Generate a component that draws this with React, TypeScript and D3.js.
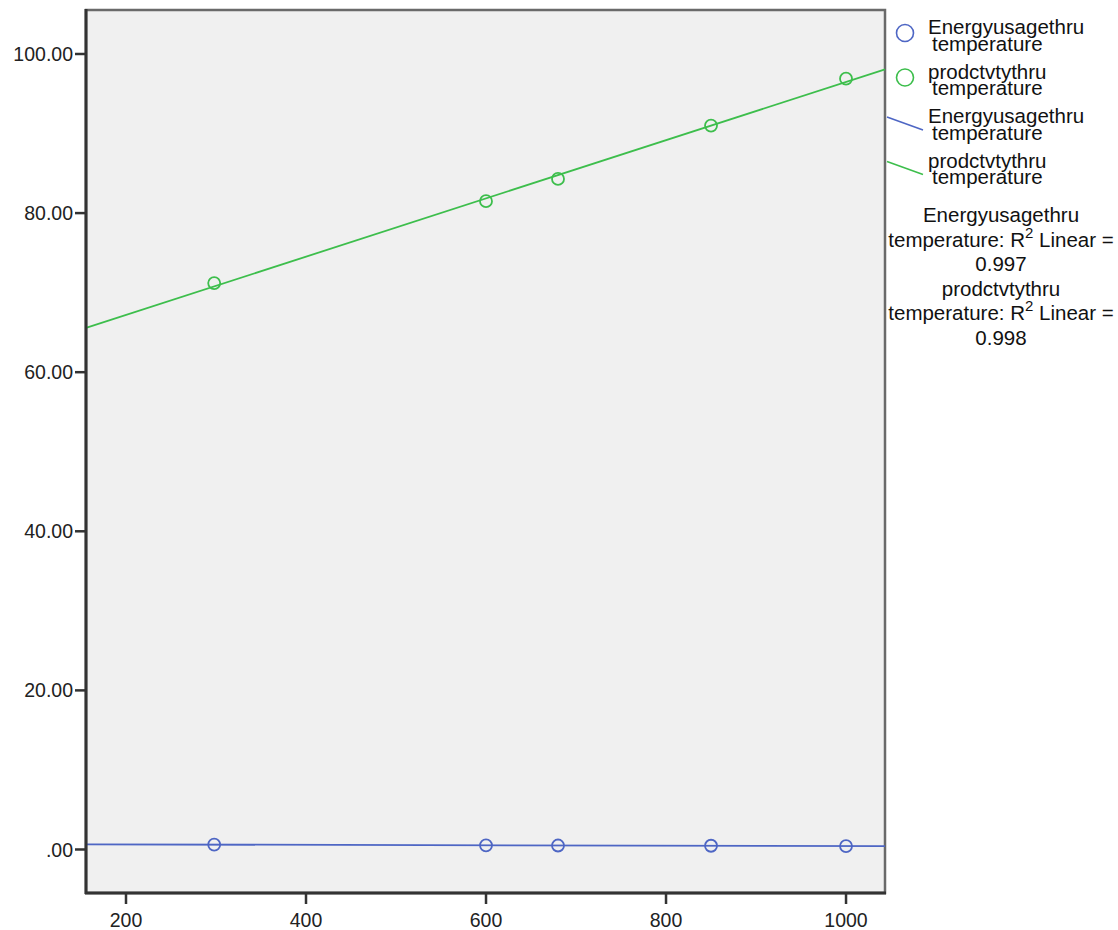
import React from "react";
import * as d3 from "d3";

const temperature = [298, 600, 680, 850, 1000];
const energyUsage = [0.62, 0.52, 0.5, 0.47, 0.43];
const productivity = [71.2, 81.5, 84.3, 91.0, 96.9];
const yTicks = [0, 20, 40, 60, 80, 100];
const xTicks = [200, 400, 600, 800, 1000];
const legendNames = ["Energyusagethru", "prodctvtythru"];
const r2Values = ["0.997", "0.998"];

const BLUE = "#4E66C4";
const GREEN = "#3DBE4C";
const FONT = "'Liberation Sans', Arial, sans-serif";

function fit(xs: number[], ys: number[]) {
  const mx = d3.mean(xs)!;
  const my = d3.mean(ys)!;
  let sxy = 0, sxx = 0;
  xs.forEach((x, i) => { sxy += (x - mx) * (ys[i] - my); sxx += (x - mx) * (x - mx); });
  const b = sxy / sxx;
  return (x: number) => my + b * (x - mx);
}

export default function App() {
  const W = 1118, H = 930;
  const L = 86, R = 885, T = 10, B = 893;
  const x = d3.scaleLinear().domain([155.56, 1043.3]).range([L, R]);
  const y = d3.scaleLinear().domain([-5.47, 105.53]).range([B, T]);
  const series = [
    { name: legendNames[0], vals: energyUsage, color: BLUE },
    { name: legendNames[1], vals: productivity, color: GREEN },
  ];
  const [x0, x1] = x.domain();
  const fmtY = (v: number) => (v === 0 ? ".00" : v.toFixed(2));
  const LF = 20.5;

  return (
    <svg width={W} height={H} style={{ position: "absolute", left: 0, top: 0, background: "#fff" }} fontFamily={FONT}>
      <rect x={L} y={T} width={R - L} height={B - T} fill="#F0F0F0" stroke="#6a6a6a" strokeWidth={2.5} />
      {series.map((s, i) => {
        const f = fit(temperature, s.vals);
        const pts: [number, number][] = [[x(x0), y(f(x0))], [x(x1), y(f(x1))]];
        return <path key={"l" + i} d={d3.line()(pts)!} stroke={s.color} strokeWidth={1.8} fill="none" />;
      })}
      {series.map((s, i) =>
        temperature.map((t, j) => (
          <circle key={"p" + i + "-" + j} cx={x(t)} cy={y(s.vals[j])} r={6} fill="none" stroke={s.color} strokeWidth={1.8} />
        ))
      )}
      <line x1={L} y1={T - 1} x2={L} y2={B + 1} stroke="#333" strokeWidth={3} />
      <line x1={L - 1} y1={B} x2={R + 1} y2={B} stroke="#333" strokeWidth={3} />
      {yTicks.map((v) => (
        <g key={"y" + v}>
          <line x1={L - 11} x2={L} y1={y(v)} y2={y(v)} stroke="#333" strokeWidth={2.5} />
          <text x={L - 13} y={y(v)} dy="0.36em" textAnchor="end" fontSize={19.5} fill="#222">{fmtY(v)}</text>
        </g>
      ))}
      {xTicks.map((v) => (
        <g key={"x" + v}>
          <line x1={x(v)} x2={x(v)} y1={B} y2={B + 11} stroke="#333" strokeWidth={2.5} />
          <text x={x(v)} y={927} textAnchor="middle" fontSize={19.5} fill="#222">{v}</text>
        </g>
      ))}
      {series.map((s, i) => {
        const by = 34 + i * 44.5;
        return (
          <g key={"lg" + i}>
            <circle cx={905} cy={by - 1} r={8.5} fill="none" stroke={s.color} strokeWidth={1.6} />
            <text x={928} y={by} fontSize={LF} fill="#111">
              <tspan x={928}>{s.name}</tspan>
              <tspan x={932} dy={16.5}>temperature</tspan>
            </text>
          </g>
        );
      })}
      {series.map((s, i) => {
        const by = 123 + i * 44.5;
        return (
          <g key={"ll" + i}>
            <line x1={887} y1={by - 6} x2={923} y2={by + 7} stroke={s.color} strokeWidth={1.6} />
            <text x={928} y={by} fontSize={LF} fill="#111">
              <tspan x={928}>{s.name}</tspan>
              <tspan x={932} dy={16.5}>temperature</tspan>
            </text>
          </g>
        );
      })}
      {series.map((s, i) => {
        const by = 222 + i * 73.8;
        return (
          <text key={"r2" + i} fontSize={LF} fill="#111" textAnchor="middle" x={1001} y={by}>
            <tspan x={1001}>{s.name}</tspan>
            <tspan x={1001} dy={24.6}>temperature: R</tspan>
            <tspan fontSize={15} dy={-9}>2</tspan>
            <tspan dy={9}> Linear =</tspan>
            <tspan x={1001} dy={24.6}>{r2Values[i]}</tspan>
          </text>
        );
      })}
    </svg>
  );
}
